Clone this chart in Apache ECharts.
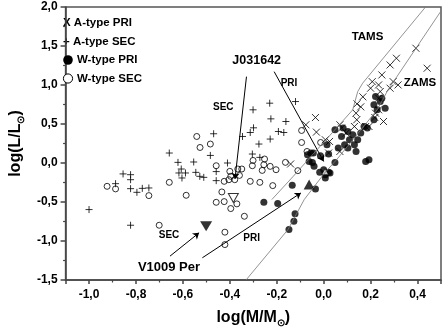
<!DOCTYPE html>
<html>
<head>
<meta charset="utf-8">
<script src="https://cdn.jsdelivr.net/npm/echarts@6/dist/echarts.min.js"></script>
<style>
  html, body { margin: 0; padding: 0; background: #fff; }
  #chart { width: 444px; height: 333px; }
</style>
</head>
<body>
<div id="chart"></div>
<script>
// log(M/Msun), log(L/Lsun) pairs
const aTypePri = [[0.393,1.471],[0.441,1.215],[0.31,1.343],[0.283,1.257],[0.248,1.129],[0.296,1.043],[0.283,0.959],[0.317,1.001],[0.207,1.043],[0.234,1.001],[0.241,0.916],[0.2,0.959],[-0.035,0.583],[-0.031,0.396],[-0.141,-0.013],[0.069,0.49],[0.076,0.448],[0.007,0.298],[0.025,0.276],[0.138,0.639],[0.141,0.554],[0.221,0.639],[0.234,0.682],[0.255,0.532],[0.218,0.583],[0.234,0.831],[0.069,0.148],[0.096,0.384],[0.179,0.468],[0.131,0.468],[-0.076,0.49],[0.021,0.128],[0.193,0.468],[0.142,0.758],[0.167,0.848],[0.158,0.72]];
const aTypeSec = [[-0.855,-0.14],[-0.823,-0.15],[-0.823,-0.214],[-0.887,-0.265],[-0.823,-0.329],[-0.796,-0.376],[-0.773,-0.325],[-0.745,-0.32],[-1.0,-0.597],[-0.823,-0.798],[-0.301,0.682],[-0.23,0.767],[-0.12,0.788],[-0.225,0.566],[-0.161,0.532],[-0.299,0.451],[-0.469,0.375],[-0.346,0.34],[-0.313,0.391],[-0.193,0.404],[-0.17,0.391],[-0.228,0.307],[-0.276,0.243],[-0.658,0.128],[-0.483,0.097],[-0.304,0.115],[-0.272,0.072],[-0.621,0.008],[-0.554,0.013],[-0.41,0.0],[-0.607,-0.077],[-0.617,-0.128],[-0.589,-0.128],[-0.604,-0.192],[-0.545,-0.12],[-0.528,-0.171],[-0.511,-0.184],[-0.458,-0.226],[-0.458,-0.11]];
const wTypePri = [[-0.255,-0.504],[-0.196,-0.52],[-0.134,-0.286],[-0.035,-0.332],[-0.122,-0.652],[-0.127,-0.747],[-0.148,-0.853],[0.007,-0.15],[-0.017,-0.12],[0.021,-0.12],[0.048,0.008],[-0.048,0.008],[-0.062,0.02],[-0.041,-0.043],[0.0,-0.086],[0.027,-0.128],[-0.069,0.106],[-0.044,0.128],[-0.014,0.093],[0.014,0.234],[0.021,0.115],[0.062,0.192],[0.076,0.34],[0.089,0.234],[0.103,0.404],[0.11,0.298],[0.124,0.362],[0.131,0.234],[0.145,0.298],[0.103,0.192],[0.138,0.148],[0.158,0.384],[0.172,0.468],[0.186,0.448],[0.214,0.554],[0.193,0.042],[0.179,0.02],[0.262,0.703],[0.221,0.852],[0.248,0.831],[0.048,0.426],[0.083,0.448],[0.007,-0.192],[-0.055,0.128],[0.214,0.746],[0.241,0.788],[0.228,0.682]];
const wTypeSec = [[-0.923,-0.299],[-0.887,-0.332],[-0.745,-0.418],[-0.701,-0.798],[-0.421,-0.887],[-0.421,-1.046],[-0.541,0.34],[-0.527,0.199],[-0.483,0.243],[-0.094,0.417],[-0.094,0.263],[-0.252,0.051],[-0.301,0.033],[-0.304,-0.035],[-0.458,-0.035],[-0.366,-0.077],[-0.349,-0.077],[-0.255,-0.022],[-0.262,-0.095],[-0.228,-0.043],[-0.163,0.008],[-0.203,-0.086],[-0.11,-0.098],[-0.4,-0.107],[-0.396,-0.171],[-0.359,-0.159],[-0.379,-0.214],[-0.424,-0.235],[-0.404,-0.214],[-0.658,-0.248],[-0.313,-0.235],[-0.272,-0.248],[-0.217,-0.29],[-0.434,-0.371],[-0.586,-0.414],[-0.458,-0.504],[-0.424,-0.495],[-0.37,-0.524],[-0.396,-0.584],[-0.338,-0.683],[-0.071,0.148],[-0.013,0.263]];

// the two highlighted systems
const j031642Sec = [-0.385,-0.448];
const j031642Pri = [0.006,-0.111];
const v1009Sec = [-0.501,-0.811];
const v1009Pri = [-0.062,-0.277];

// annotation arrows: [from, to]
const arrows = [
  [[-0.329,1.107],[-0.378,-0.205]],
  [[-0.211,1.171],[0.0,0.02]],
  [[-0.655,-1.194],[-0.531,-0.895]],
  [[-0.517,-1.215],[-0.097,-0.384]]
];

const tams = [[-0.221,-0.469],[-0.131,-0.175],[0.124,0.682],[0.145,0.916],[0.166,1.023],[0.434,2.0]];
const zams = [[-0.331,-1.5],[-0.152,-0.853],[-0.083,-0.469],[0.005,-0.124],[0.055,0.042],[0.228,0.682],[0.274,0.937],[0.497,1.935]];

const FONT = '"Liberation Sans", Arial, sans-serif';
const comma = v => (Math.abs(v) < 1e-9 ? 0 : v).toFixed(1).replace('.', ',');

const chart = echarts.init(document.getElementById('chart'));
const blackStroke = { color: 'transparent', borderColor: '#000', borderWidth: 1 };
const label = (text, x, y, size) => ({
  type: 'text', x, y,
  style: { text, font: 'bold ' + size + 'px ' + FONT, fill: '#000', align: 'center', textAlign: 'center', verticalAlign: 'middle', textVerticalAlign: 'middle' }
});
const legendText = (text, x, y) => ({
  type: 'text', x, y,
  style: { text, font: 'bold 11.5px ' + FONT, fill: '#000', verticalAlign: 'middle', textVerticalAlign: 'middle' }
});

chart.setOption({
  animation: false,
  backgroundColor: '#fff',
  grid: { left: 55, right: 3, top: 7, bottom: 52, show: true, borderColor: '#555', borderWidth: 1.5 },
  xAxis: {
    type: 'value', min: -1.1, max: 0.5, splitNumber: 8,
    axisLine: { onZero: false, lineStyle: { color: '#444', width: 1.5 } },
    axisTick: { length: 4, lineStyle: { color: '#444', width: 1.5 } },
    minorTick: { show: true, splitNumber: 2, length: 2.5, lineStyle: { color: '#444', width: 1.2 } },
    splitLine: { show: false },
    axisLabel: { color: '#000', fontSize: 12, fontWeight: 'bold', fontFamily: FONT, margin: 9,
      showMinLabel: false, showMaxLabel: false, formatter: comma },
    name: '{a|log(M/M}{s|⊙}{a|)}', nameLocation: 'middle', nameGap: 28,
    nameTextStyle: { rich: {
      a: { fontSize: 16, fontWeight: 'bold', fontFamily: FONT, color: '#000' },
      s: { fontSize: 10, fontWeight: 'bold', color: '#000', padding: [10, 0, 0, 0] }
    } }
  },
  yAxis: {
    type: 'value', min: -1.5, max: 2.0, interval: 0.5,
    axisLine: { onZero: false, lineStyle: { color: '#444', width: 1.5 } },
    axisTick: { length: 5, lineStyle: { color: '#444', width: 1.5 } },
    minorTick: { show: true, splitNumber: 2, length: 2.5, lineStyle: { color: '#444', width: 1.2 } },
    splitLine: { show: false },
    axisLabel: { color: '#000', fontSize: 12, fontWeight: 'bold', fontFamily: FONT, margin: 8, formatter: comma },
    name: '{a|log(L/L}{s|⊙}{a|)}', nameLocation: 'middle', nameGap: 34, nameRotate: 90,
    nameTextStyle: { rich: {
      a: { fontSize: 16, fontWeight: 'bold', fontFamily: FONT, color: '#000' },
      s: { fontSize: 10, fontWeight: 'bold', color: '#000', padding: [10, 0, 0, 0] }
    } }
  },
  series: [
    { name: 'TAMS', type: 'line', data: tams, showSymbol: false, silent: true,
      lineStyle: { color: '#777', width: 0.8 } },
    { name: 'ZAMS', type: 'line', data: zams, showSymbol: false, silent: true,
      lineStyle: { color: '#777', width: 0.8 } },
    { name: 'W-type SEC', type: 'scatter', data: wTypeSec, symbol: 'circle', symbolSize: 6,
      itemStyle: blackStroke },
    { name: 'A-type SEC', type: 'scatter', data: aTypeSec, symbol: 'path://M5,0L5,10M0,5L10,5', symbolSize: 7,
      itemStyle: blackStroke },
    { name: 'A-type PRI', type: 'scatter', data: aTypePri, symbol: 'path://M0,0L10,10M10,0L0,10', symbolSize: 7,
      itemStyle: blackStroke },
    { name: 'W-type PRI', type: 'scatter', data: wTypePri, symbol: 'circle', symbolSize: 7,
      itemStyle: { color: '#000' } },
    { name: 'J031642', type: 'scatter', data: [j031642Sec], symbol: 'triangle', symbolRotate: 180, symbolSize: [10, 9],
      itemStyle: { color: '#fff', borderColor: '#000', borderWidth: 1 } },
    { name: 'J031642 PRI', type: 'scatter', data: [j031642Pri], symbol: 'triangle', symbolSize: [7, 6],
      itemStyle: { color: '#fff', borderColor: '#000', borderWidth: 0.8 } },
    { name: 'V1009 Per', type: 'scatter', data: [v1009Sec], symbol: 'triangle', symbolRotate: 180, symbolSize: [12, 10],
      itemStyle: { color: '#000' } },
    { name: 'V1009 Per PRI', type: 'scatter', data: [v1009Pri], symbol: 'triangle', symbolSize: [11, 10],
      itemStyle: { color: '#000' } },
    { name: 'arrows', type: 'lines', coordinateSystem: 'cartesian2d', silent: true,
      symbol: ['none', 'arrow'], symbolSize: 6,
      lineStyle: { color: '#000', width: 1, opacity: 1 },
      data: arrows.map(a => ({ coords: a })) }
  ],
  graphic: [
    legendText('X A-type PRI', 63, 23),
    legendText('+ A-type SEC', 63, 42),
    { type: 'circle', z: 100, shape: { cx: 68, cy: 60, r: 4.8 }, style: { fill: '#000' } },
    legendText('W-type PRI', 77, 60),
    { type: 'circle', z: 100, shape: { cx: 68, cy: 78.5, r: 4.6 }, style: { fill: '#fff', stroke: '#000', lineWidth: 1 } },
    legendText('W-type SEC', 77, 78.5),
    label('J031642', 256.7, 61, 12.5),
    label('PRI', 289, 83.5, 10),
    label('SEC', 223.3, 107, 10),
    label('SEC', 169, 235, 10),
    label('PRI', 251.7, 238.5, 10),
    label('V1009 Per', 169, 267, 13),
    label('TAMS', 367.5, 37, 11.5),
    label('ZAMS', 420, 83, 11.5)
  ]
});
</script>
</body>
</html>
